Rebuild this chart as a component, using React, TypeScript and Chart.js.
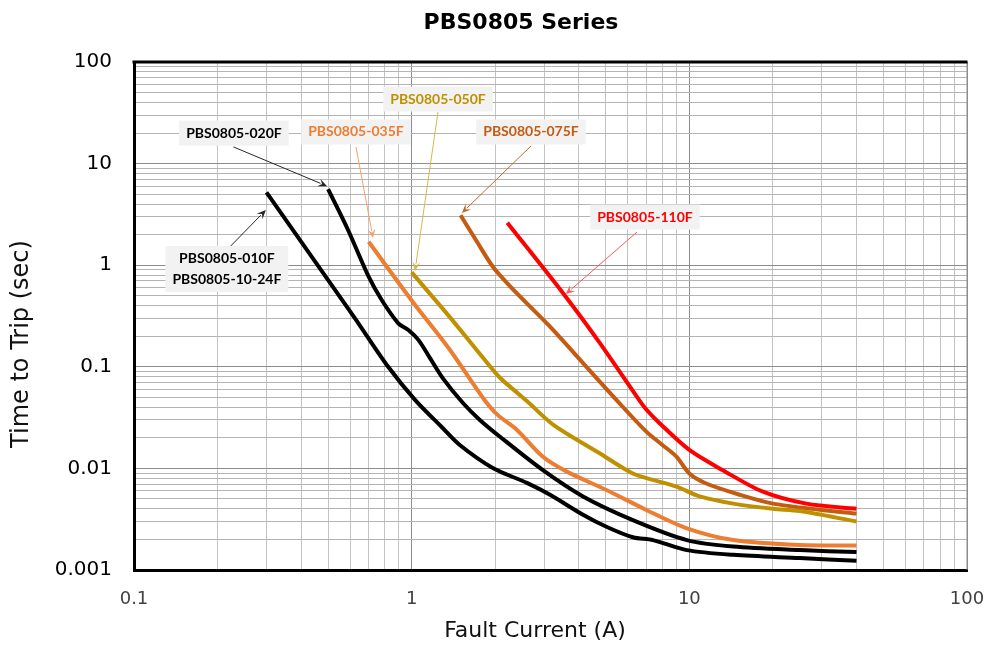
import React, { useEffect, useRef } from 'react';
import { Chart, registerables } from 'chart.js';

Chart.register(...registerables);

// ---------- data ----------
const seriesNames = ['PBS0805-010F', 'PBS0805-020F', 'PBS0805-035F', 'PBS0805-050F', 'PBS0805-075F', 'PBS0805-110F'];
const seriesColors = ['#000000', '#000000', '#ED7D31', '#BF9000', '#C55A11', '#FF0000'];

const x010 = [0.3, 0.474, 0.625, 0.823, 1.03, 1.28, 1.49, 1.96, 2.6, 3.15, 4.14, 5.05, 6.26, 7.4, 9.8, 14.4, 25, 40];
const y010 = [5.2, 0.88, 0.3, 0.1, 0.047, 0.0257, 0.017, 0.0101, 0.0072, 0.0055, 0.0035, 0.00265, 0.0021, 0.00197, 0.00157, 0.00141, 0.00131, 0.00123];

const x020 = [0.5, 0.59, 0.7, 0.78, 0.895, 0.973, 1.057, 1.16, 1.3, 1.53, 1.76, 2.08, 2.97, 4.14, 6.26, 9.8, 14.4, 25, 40];
const y020 = [5.6, 2.22, 0.77, 0.454, 0.268, 0.23, 0.184, 0.124, 0.076, 0.044, 0.03, 0.0205, 0.0096, 0.0053, 0.0031, 0.00197, 0.0017, 0.00157, 0.0015];

const x035 = [0.7, 1.0, 1.37, 1.81, 2.03, 2.39, 2.97, 3.62, 5.05, 7.0, 9.8, 14.4, 25, 40];
const y035 = [1.7, 0.45, 0.148, 0.049, 0.034, 0.024, 0.013, 0.0093, 0.0061, 0.0039, 0.00257, 0.00197, 0.00176, 0.00174];

const x050 = [1.0, 1.37, 1.81, 2.08, 2.39, 2.6, 3.23, 4.77, 6.26, 7.4, 9.0, 10.9, 14.4, 20, 25, 40];
const y050 = [0.85, 0.31, 0.122, 0.078, 0.056, 0.046, 0.027, 0.014, 0.0089, 0.0077, 0.0066, 0.0053, 0.0045, 0.004, 0.0038, 0.003];

const x075 = [1.5, 1.71, 1.97, 2.39, 3.15, 4.15, 5.47, 7.0, 8.0, 9.0, 10.0, 11.5, 15.2, 20, 30, 40];
const y075 = [3.1, 1.74, 0.95, 0.53, 0.248, 0.108, 0.047, 0.023, 0.017, 0.013, 0.0089, 0.0071, 0.0055, 0.0045, 0.0039, 0.0036];

const x110 = [2.21, 3.51, 4.77, 6.6, 7.0, 7.8, 10.0, 13.2, 18.4, 26.4, 40];
const y110 = [2.62, 0.53, 0.17, 0.047, 0.038, 0.028, 0.0152, 0.0096, 0.0059, 0.0045, 0.004];

const seriesX = [x010, x020, x035, x050, x075, x110];
const seriesY = [y010, y020, y035, y050, y075, y110];

// axis ticks
const xMajor = [0.1, 1, 10, 100];
const yMajor = [0.001, 0.01, 0.1, 1, 10, 100];
const minorSteps = [2, 3, 4, 5, 6, 7, 8, 9];

// annotations (data coordinates)
const noteLines = [
  ['PBS0805-020F'],
  ['PBS0805-035F'],
  ['PBS0805-050F'],
  ['PBS0805-075F'],
  ['PBS0805-110F'],
  ['PBS0805-010F', 'PBS0805-10-24F'],
];
const noteX = [0.229, 0.63, 1.244, 2.69, 6.92, 0.216];
const noteY = [20, 20.5, 43.2, 20.5, 2.98, 0.918];
const arrowFromX = [0.228, 0.63, 1.244, 2.69, 6.48, 0.223];
const arrowFromY = [14.6, 14.6, 32.2, 14.9, 2.12, 1.545];
const arrowToX = [0.496, 0.726, 1.028, 1.517, 3.59, 0.2985];
const arrowToY = [6.0, 1.85, 0.877, 3.27, 0.52, 3.49];
const noteColors = ['#000000', '#ED7D31', '#BF9000', '#C55A11', '#FF0000', '#000000'];
const arrowColors = ['#262626', '#F4A36C', '#D8B84C', '#C8692A', '#FF5A5A', '#262626'];

const titleText = 'PBS0805 Series';
const xTitle = 'Fault Current (A)';
const yTitle = 'Time to Trip (sec)';

function buildTicks(majors: number[]) {
  const out: number[] = [];
  majors.forEach((m, i) => {
    out.push(m);
    if (i < majors.length - 1) minorSteps.forEach((s) => out.push(Number((m * s).toPrecision(3))));
  });
  return out;
}

const isMajorOf = (majors: number[]) => (v: number) => majors.some((m) => Math.abs(m - v) / m < 1e-6);
const isXMajor = isMajorOf(xMajor);
const isYMajor = isMajorOf(yMajor);

const decorPlugin = {
  id: 'decor',
  afterDatasetsDraw(chart: any) {
    const ctx = chart.ctx;
    const xs = chart.scales.x;
    const ys = chart.scales.y;
    const ca = chart.chartArea;
    ctx.save();
    // right edge
    ctx.strokeStyle = '#8C8C8C';
    ctx.lineWidth = 1;
    ctx.beginPath();
    ctx.moveTo(ca.right, ca.top);
    ctx.lineTo(ca.right, ca.bottom);
    ctx.stroke();
    // top edge thick
    ctx.strokeStyle = '#000';
    ctx.lineWidth = 3;
    ctx.beginPath();
    ctx.moveTo(ca.left - 1.5, ca.top);
    ctx.lineTo(ca.right + 0.5, ca.top);
    ctx.stroke();

    // arrows
    for (let i = 0; i < noteLines.length; i++) {
      const x1 = xs.getPixelForValue(arrowFromX[i]);
      const y1 = ys.getPixelForValue(arrowFromY[i]);
      const x2 = xs.getPixelForValue(arrowToX[i]);
      const y2 = ys.getPixelForValue(arrowToY[i]);
      const ang = Math.atan2(y2 - y1, x2 - x1);
      const hl = 9;
      const hw = 4;
      ctx.strokeStyle = arrowColors[i];
      ctx.fillStyle = arrowColors[i];
      ctx.lineWidth = 1;
      ctx.beginPath();
      ctx.moveTo(x1, y1);
      ctx.lineTo(x2 - Math.cos(ang) * hl * 0.8, y2 - Math.sin(ang) * hl * 0.8);
      ctx.stroke();
      ctx.beginPath();
      ctx.moveTo(x2, y2);
      ctx.lineTo(x2 - Math.cos(ang) * hl + Math.sin(ang) * hw, y2 - Math.sin(ang) * hl - Math.cos(ang) * hw);
      ctx.lineTo(x2 - Math.cos(ang) * hl * 0.6, y2 - Math.sin(ang) * hl * 0.6);
      ctx.lineTo(x2 - Math.cos(ang) * hl - Math.sin(ang) * hw, y2 - Math.sin(ang) * hl + Math.cos(ang) * hw);
      ctx.closePath();
      ctx.fill();
    }

    // label boxes
    ctx.font = 'bold 14px Lato';
    ctx.textAlign = 'center';
    ctx.textBaseline = 'middle';
    for (let i = 0; i < noteLines.length; i++) {
      const cx = xs.getPixelForValue(noteX[i]);
      const cy = ys.getPixelForValue(noteY[i]);
      const lines = noteLines[i];
      const w = Math.max(...lines.map((t) => ctx.measureText(t).width)) + 14;
      const lh = 21;
      const h = lines.length * lh + 4;
      ctx.fillStyle = '#F2F2F2';
      ctx.fillRect(cx - w / 2, cy - h / 2, w, h);
      ctx.fillStyle = noteColors[i];
      lines.forEach((t, k) => {
        ctx.fillText(t, cx, cy - ((lines.length - 1) * lh) / 2 + k * lh);
      });
    }

    // titles
    ctx.fillStyle = '#000';
    ctx.font = 'bold 22px "DejaVu Sans"';
    ctx.fillText(titleText, 521, 23);
    ctx.font = '22px "DejaVu Sans"';
    ctx.fillStyle = '#111';
    ctx.fillText(xTitle, 535, 631);
    ctx.font = '24px "DejaVu Sans"';
    ctx.translate(22, 344);
    ctx.rotate(-Math.PI / 2);
    ctx.fillText(yTitle, 0, 0);
    ctx.restore();
  },
};

export default function App() {
  const ref = useRef<HTMLCanvasElement | null>(null);
  useEffect(() => {
    if (!ref.current) return;
    const xTickVals = buildTicks(xMajor);
    const yTickVals = buildTicks(yMajor);
    const chart = new Chart(ref.current, {
      type: 'line',
      data: {
        datasets: seriesNames.map((name, i) => ({
          label: name,
          data: seriesX[i].map((x, k) => ({ x, y: seriesY[i][k] })),
          borderColor: seriesColors[i],
          backgroundColor: seriesColors[i],
          borderWidth: 4,
          pointRadius: 0,
          tension: 0.3,
          fill: false,
        })),
      },
      options: {
        responsive: false,
        animation: false,
        layout: { padding: { top: 62, right: 18, left: 0, bottom: 0 } },
        plugins: { legend: { display: false }, tooltip: { enabled: false }, title: { display: false } },
        scales: {
          x: {
            type: 'logarithmic',
            min: 0.1,
            max: 100,
            afterBuildTicks: (s: any) => {
              s.ticks = xTickVals.map((v) => ({ value: v }));
            },
            afterFit: (s: any) => {
              s.height = 75;
              s.paddingRight = 0;
              s.paddingLeft = 0;
            },
            ticks: {
              autoSkip: false,
              maxRotation: 0,
              padding: 19,
              color: '#404040',
              font: { family: 'DejaVu Sans', size: 18 },
              callback: (v: any) => (isXMajor(Number(v)) ? String(v) : ''),
            },
            grid: {
              drawTicks: false,
              color: (c: any) => (c.tick && isXMajor(c.tick.value) ? '#8C8C8C' : '#C4C4C4'),
              lineWidth: 1,
            },
            border: { display: true, color: '#000', width: 3 },
          },
          y: {
            type: 'logarithmic',
            min: 0.001,
            max: 100,
            afterBuildTicks: (s: any) => {
              s.ticks = yTickVals.map((v) => ({ value: v }));
            },
            afterFit: (s: any) => {
              s.width = 134;
            },
            ticks: {
              autoSkip: false,
              padding: 22,
              color: '#000',
              font: { family: 'DejaVu Sans', size: 20 },
              callback: (v: any) => (isYMajor(Number(v)) ? String(v) : ''),
            },
            grid: {
              drawTicks: false,
              color: (c: any) => (c.tick && isYMajor(c.tick.value) ? '#8C8C8C' : '#B4B4B4'),
              lineWidth: 1,
            },
            border: { display: true, color: '#000', width: 3 },
          },
        },
      },
      plugins: [decorPlugin],
    } as any);
    return () => chart.destroy();
  }, []);
  return (
    <div style={{ position: 'absolute', left: 0, top: 0, width: 985, height: 645, background: '#fff' }}>
      <canvas ref={ref} width={985} height={645} />
    </div>
  );
}
